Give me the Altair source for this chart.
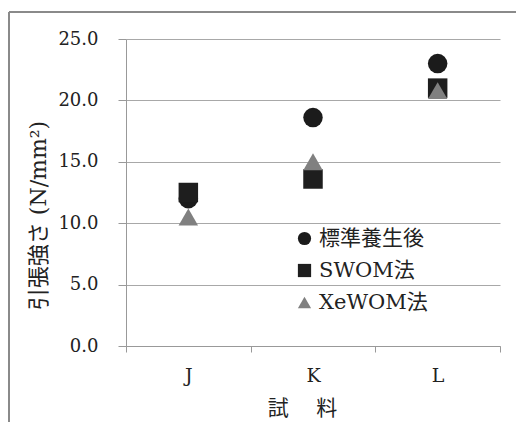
import altair as alt
import pandas as pd

categories = ["J", "K", "L"]
series = ["標準養生後", "SWOM法", "XeWOM法"]
v_std = [12.0, 18.6, 23.0]
v_swom = [12.5, 13.6, 21.0]
v_xe = [10.5, 15.0, 20.8]

rows = []
for s, vals in zip(series, [v_std, v_swom, v_xe]):
    for c, v in zip(categories, vals):
        rows.append({"試料": c, "series": s, "value": v, "order": series.index(s)})
df = pd.DataFrame(rows)

FONT = "DejaVu Serif, Noto Sans CJK JP"

leg = alt.Legend(title=None, orient="none", legendX=168, legendY=189,
                 symbolSize=175, labelFontSize=21, rowPadding=10,
                 padding=0, labelOffset=4, labelColor="#222", labelFont=FONT)

points = alt.Chart(df).mark_point(filled=True, opacity=1, size=380).encode(
    x=alt.X("試料:N", sort=categories,
            scale=alt.Scale(paddingInner=0, paddingOuter=0),
            axis=alt.Axis(title="試　 料", labelAngle=0, tickBand="extent",
                          tickSize=6, labelPadding=14, labelFontSize=19,
                          titleFontSize=21, titlePadding=12, titleX=176, grid=False)),
    y=alt.Y("value:Q", scale=alt.Scale(domain=[0, 25]),
            axis=alt.Axis(title="引張強さ (N/mm²)", values=[0, 5, 10, 15, 20, 25],
                          format=".1f", tickSize=8, labelPadding=20,
                          labelFontSize=18, titleFontSize=22,
                          titleX=-88, titleY=176, titleBaseline="middle")),
    shape=alt.Shape("series:N", scale=alt.Scale(domain=series, range=["circle", "square", "triangle-up"]),
                    legend=leg),
    color=alt.Color("series:N", scale=alt.Scale(domain=series, range=["#1b1b1b", "#1e1e1e", "#808080"]),
                    legend=leg),
    order=alt.Order("order:Q"),
)

frame_df = pd.DataFrame({"k": [0]})
frame_top = alt.Chart(frame_df).mark_rule(color="#8a8a8a", strokeWidth=2).encode(
    x=alt.value(-117), x2=alt.value(420), y=alt.value(-27))
frame_left = alt.Chart(frame_df).mark_rule(color="#8a8a8a", strokeWidth=2).encode(
    x=alt.value(-117), y=alt.value(-27), y2=alt.value(386))

chart = alt.layer(points, frame_top, frame_left).properties(
    width=374, height=307,
    padding={"left": 118, "top": 31, "right": 16, "bottom": 76},
    autosize=alt.AutoSizeParams(type="none"),
).configure(
    font=FONT,
).configure_view(
    stroke=None,
).configure_axis(
    labelFont=FONT, titleFont=FONT, labelColor="#222", titleColor="#222",
    domainColor="#999", tickColor="#999", gridColor="#a8a8a8",
    titleFontWeight="normal",
)

chart.save("out.html", embed_options={"renderer": "svg", "actions": False})
